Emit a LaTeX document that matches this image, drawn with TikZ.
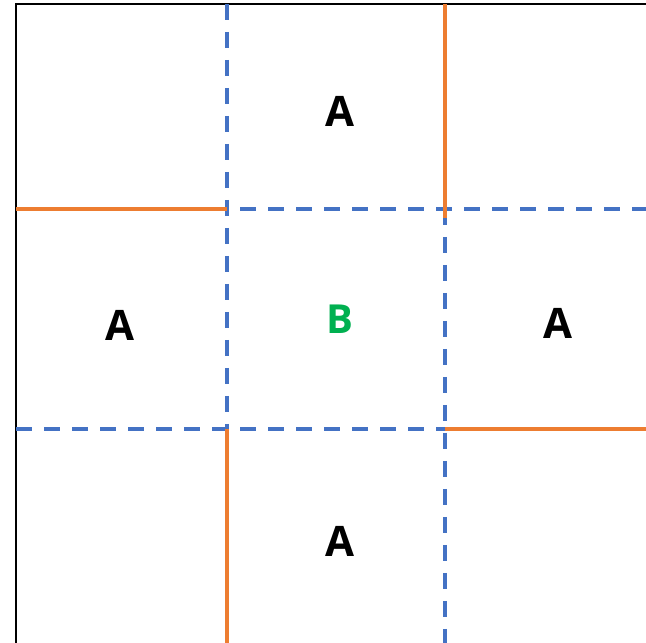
\documentclass[tikz,border=0pt]{standalone}
\usepackage{fontspec}
\setmainfont{Open Sans}
\definecolor{gridblue}{HTML}{4472C4}
\definecolor{cutorange}{HTML}{ED7D31}
\definecolor{bgreen}{HTML}{00B050}
\begin{document}
\begin{tikzpicture}[x=1pt,y=1pt,
  blueline/.style={draw=gridblue,line width=3.4pt,dash pattern=on 16pt off 12pt},
  orangeline/.style={draw=cutorange,line width=3.4pt},
  frameline/.style={draw=black,line width=2.6pt},
  lab/.style={inner sep=0pt,font=\fontsize{42}{46}\selectfont\bfseries},
]
\useasboundingbox (0,0) rectangle (646,643);
% grid coordinates (image y measured from top -> 643 - y)
\coordinate (fTL) at (16,639);
\coordinate (fBL) at (16,-5);
\coordinate (fTR) at (651,639);
\coordinate (v1top) at (227,639);
\coordinate (v1mid) at (227,214);
\coordinate (v1bot) at (227,-5);
\coordinate (v2top) at (445,639);
\coordinate (v2orEnd) at (445,425);
\coordinate (v2mid) at (445,434);
\coordinate (v2bot) at (445,-5);
\coordinate (h1left) at (16,434);
\coordinate (h1mid) at (227,434);
\coordinate (h1right) at (651,434);
\coordinate (h2left) at (16,214);
\coordinate (h2mid) at (445,214);
\coordinate (h2right) at (651,214);
% frame
\draw[frameline] (fBL) -- (fTL) -- (fTR);
% blue dashed lines
\draw[blueline] (v1top) -- (v1mid);
\draw[blueline,dash phase=15pt] (h1mid) -- (h1right);
\draw[blueline] (v2mid) -- (v2bot);
\draw[blueline] (h2left) -- (h2mid);
% orange lines
\draw[orangeline] (h1left) -- (h1mid);
\draw[orangeline] (v2top) -- (v2orEnd);
\draw[orangeline] (h2mid) -- (h2right);
\draw[orangeline] (v1mid) -- (v1bot);
% labels
\node[lab] (aTop) at (340,532) {A};
\node[lab] (aLeft) at (119.5,318) {A};
\node[lab] (aRight) at (558,320) {A};
\node[lab] (aBottom) at (340,102) {A};
\node[lab,text=bgreen,font=\fontsize{40}{44}\selectfont\bfseries] (bCenter) at (339.5,324) {B};
\end{tikzpicture}
\end{document}
